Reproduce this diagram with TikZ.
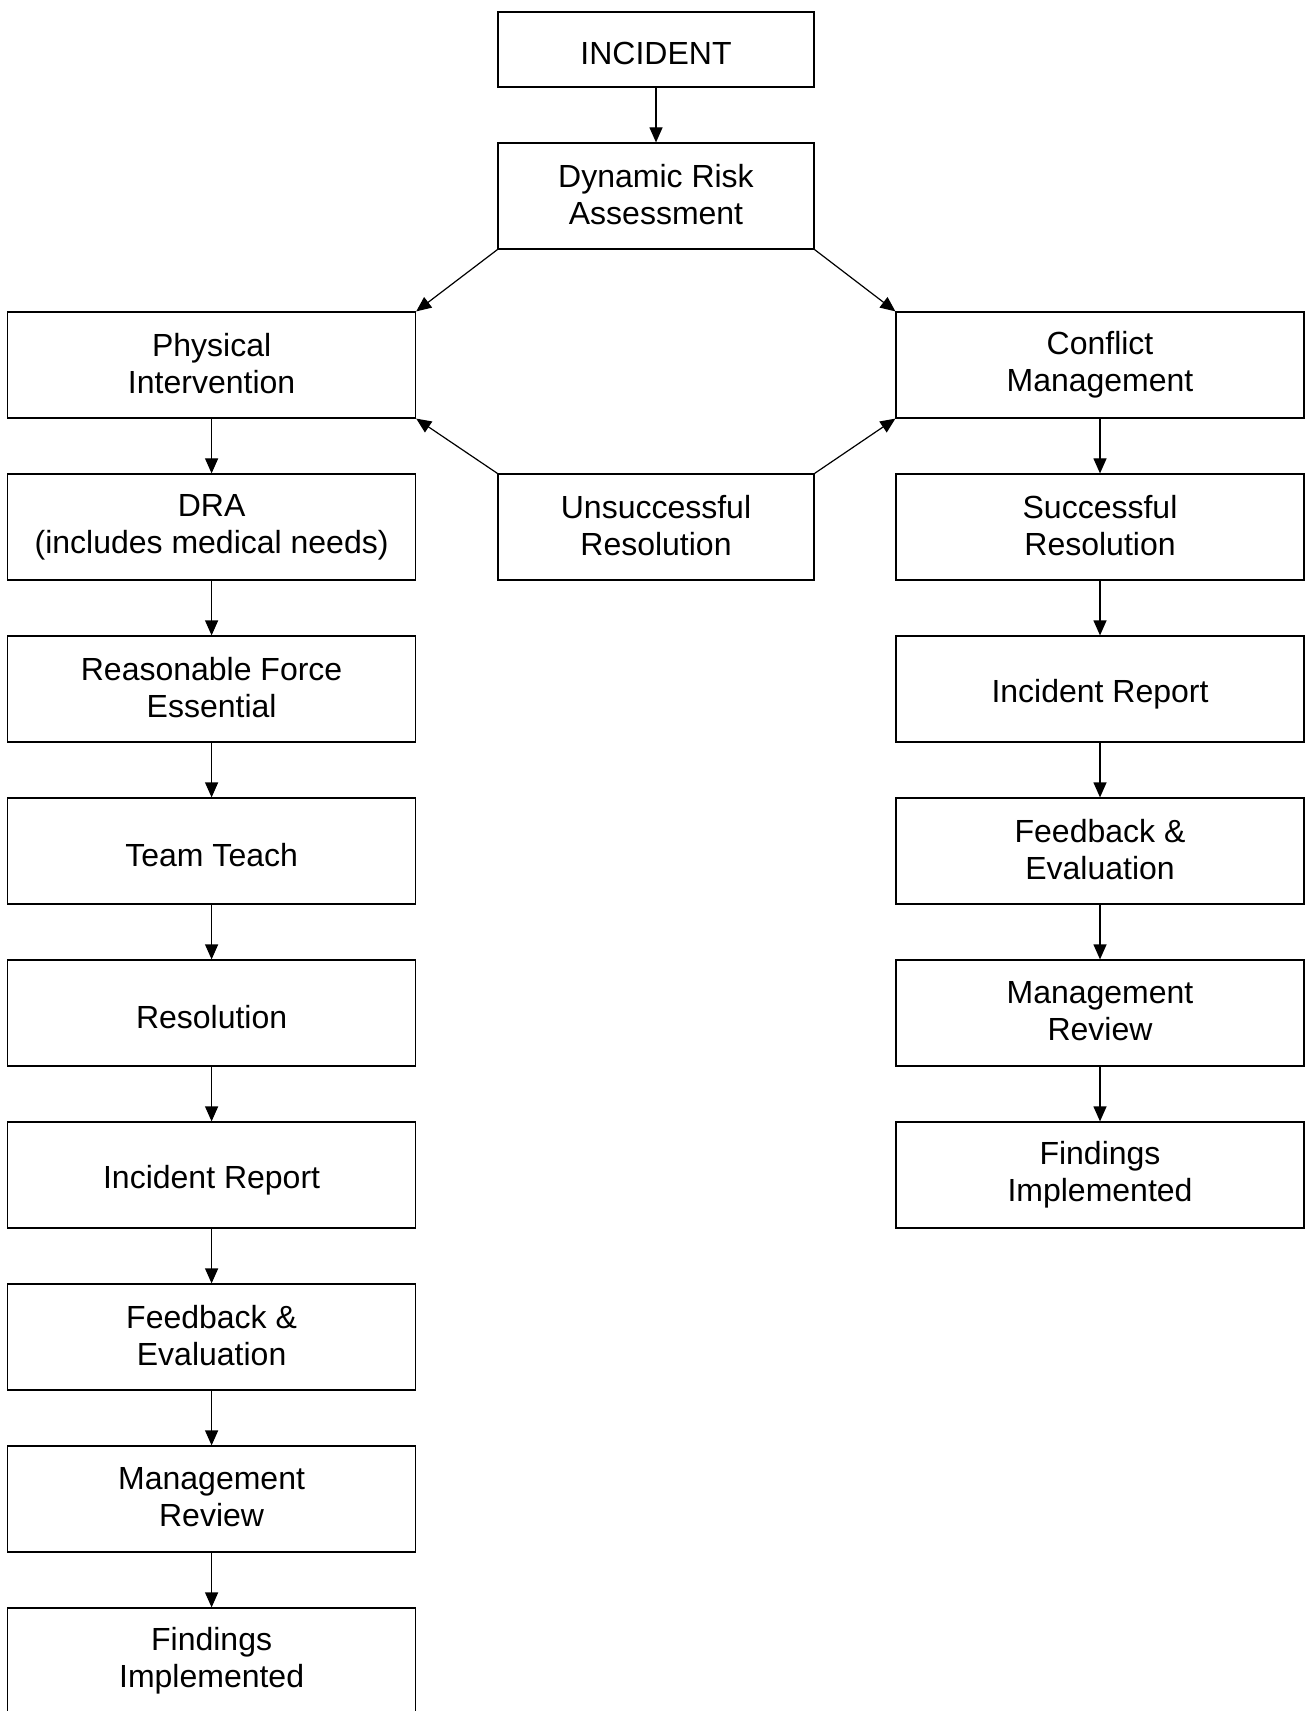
\documentclass[tikz,border=0pt]{standalone}
\usepackage{fontspec}
\setmainfont{Liberation Sans}
\usepackage{tikz}
\usetikzlibrary{arrows.meta,positioning}
\newcommand\boxstrut{\vrule width 0pt height 16.8pt depth 1.7pt}

\begin{document}
\begin{tikzpicture}[
  node distance=27.4pt,
  every node/.style={font=\fontsize{16pt}{18.5pt}\selectfont},
  box/.style={rectangle, draw=black, line width=0.6pt, fill=white, align=center, inner sep=2pt, minimum height=53pt,
    execute at begin node=\boxstrut, execute at end node=\boxstrut},
  sidebox/.style={box, minimum width=204pt},
  midbox/.style={box, minimum width=158pt},
  arrow/.style={-{Triangle[length=7.5pt,width=6.5pt]}, line width=0.6pt, draw=black}
]
\useasboundingbox (0,0) rectangle (653pt,-855.5pt);

\node[midbox, minimum height=37.5pt] (incident) at (328pt,-24.75pt) {INCIDENT};
\node[midbox, below=of incident] (dra) {Dynamic Risk\\Assessment};

\node[sidebox] (phys) at (105.8pt,-182.5pt) {Physical\\Intervention};
\node[sidebox] (conf) at (550pt,-182.5pt)   {Conflict\\Management};

\node[sidebox, below=of phys]     (dracheck) {DRA\\(includes medical needs)};
\node[sidebox, below=of dracheck] (force)    {Reasonable Force\\Essential};
\node[sidebox, below=of force]    (teach)    {Team Teach};
\node[sidebox, below=of teach]    (resol)    {Resolution};
\node[sidebox, below=of resol]    (lreport)  {Incident Report};
\node[sidebox, below=of lreport]  (lfeed)    {Feedback \&\\Evaluation};
\node[sidebox, below=of lfeed]    (lreview)  {Management\\Review};
\node[sidebox, below=of lreview]  (lfind)    {Findings\\Implemented};

\node[midbox] (unsucc) at (incident|-dracheck) {Unsuccessful\\Resolution};

\node[sidebox, below=of conf]    (succ)    {Successful\\Resolution};
\node[sidebox, below=of succ]    (rreport) {Incident Report};
\node[sidebox, below=of rreport] (rfeed)   {Feedback \&\\Evaluation};
\node[sidebox, below=of rfeed]   (rreview) {Management\\Review};
\node[sidebox, below=of rreview] (rfind)   {Findings\\Implemented};

\draw[arrow] (incident) -- (dra);
\draw[arrow] (dra.south west) -- (phys.north east);
\draw[arrow] (dra.south east) -- (conf.north west);
\draw[arrow] (unsucc.north west) -- (phys.south east);
\draw[arrow] (unsucc.north east) -- (conf.south west);

\draw[arrow] (phys) -- (dracheck);
\draw[arrow] (dracheck) -- (force);
\draw[arrow] (force) -- (teach);
\draw[arrow] (teach) -- (resol);
\draw[arrow] (resol) -- (lreport);
\draw[arrow] (lreport) -- (lfeed);
\draw[arrow] (lfeed) -- (lreview);
\draw[arrow] (lreview) -- (lfind);

\draw[arrow] (conf) -- (succ);
\draw[arrow] (succ) -- (rreport);
\draw[arrow] (rreport) -- (rfeed);
\draw[arrow] (rfeed) -- (rreview);
\draw[arrow] (rreview) -- (rfind);
\end{tikzpicture}
\end{document}
